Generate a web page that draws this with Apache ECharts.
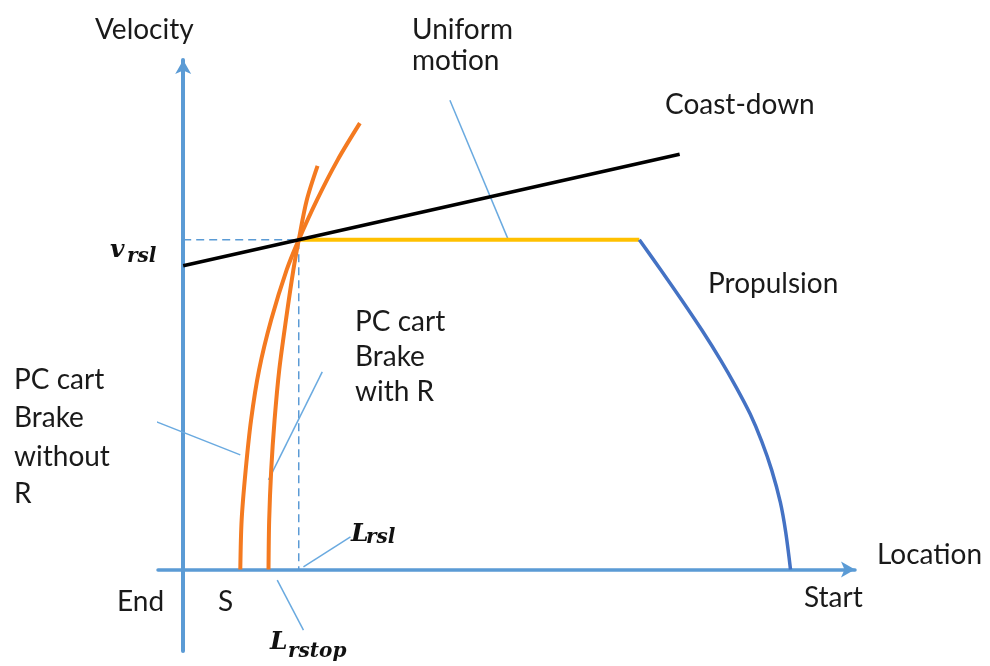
<!DOCTYPE html>
<html>
<head>
<meta charset="utf-8">
<script src="https://cdn.jsdelivr.net/npm/echarts@6/dist/echarts.min.js"></script>
<style>html,body{margin:0;padding:0;background:#fff}#c{width:990px;height:666px}</style>
</head>
<body>
<div id="c"></div>
<script>
// ---- data (arbitrary schematic units: location / velocity) ----
const coastDown = [[0, 59.6], [73.9, 81.5]];
const uniformMotion = [[17.2, 64.7], [67.9, 64.7]];
const propulsion = [[67.9, 64.7], [71.1, 58.8], [74.2, 52.9], [77.2, 47.0], [80.0, 41.1], [82.3, 35.8], [84.4, 30.5], [86.1, 25.2], [87.6, 19.5], [88.9, 13.1], [89.7, 7.2], [90.4, 0]];
const brakeWithoutR = [[8.5, 0], [8.7, 9.7], [9.3, 19.5], [10.1, 29.3], [11.3, 39.2], [13.1, 49.0], [15.4, 58.8], [17.2, 64.7], [19.9, 72.5], [23.0, 80.4], [26.3, 87.6]];
const brakeWithR = [[12.7, 0], [12.8, 9.7], [13.1, 19.5], [13.6, 29.3], [14.3, 39.2], [15.3, 49.0], [16.4, 58.8], [17.2, 64.7], [18.4, 72.5], [20.0, 79.2]];
const vrslGuide = [[0, 64.7], [17.2, 64.7], [17.2, 0]];
const leaderUniform = [[39.7, 92.1], [48.4, 64.7]];
const leaderWithoutR = [[-8.4, 31.3], [8.5, 22.5]];
const leaderWithR = [[12.7, 17.6], [20.7, 38.8]];
const leaderLrsl = [[17.9, 0.5], [24.9, 6.4]];
const leaderLrstop = [[14.0, -2.1], [17.9, -11.9]];

// ---- text labels ----
const textLabels = [
  ['Velocity', 95, 30],
  ['Uniform', 412, 30],
  ['motion', 412, 61],
  ['Coast-down', 665, 105],
  ['Propulsion', 708, 284],
  ['PC cart', 355, 322],
  ['Brake', 355, 357],
  ['with R', 355, 392],
  ['PC cart', 14, 380],
  ['Brake', 14, 418],
  ['without', 14, 457],
  ['R', 14, 494],
  ['End', 117, 602],
  ['S', 218, 602],
  ['Start', 804, 598],
  ['Location', 877, 555]
];
const mathLabels = [
  ['v', 'rsl', 110, 263, 17, 4],
  ['L', 'rsl', 351, 547, 15, 1],
  ['L', 'rstop', 270, 655, 18, 7]
];

const AXIS = '#5B9BD5';
const LEADER = '#6AAAE0';
const chart = echarts.init(document.getElementById('c'), null, {renderer: 'canvas'});

function line(data, color, width, opts) {
  return Object.assign({
    type: 'line', data: data, symbol: 'none', clip: false, silent: true,
    lineStyle: {color: color, width: width}, z: 3
  }, opts || {});
}

const graphics = [];
textLabels.forEach(t => graphics.push({
  type: 'text', x: t[1], y: t[2],
  style: {text: t[0], font: '28px Lato', fill: '#1a1a1a', textVerticalAlign: 'middle'}
}));
mathLabels.forEach(m => {
  graphics.push({type: 'text', x: m[2], y: m[3],
    style: {text: m[0], font: 'italic bold 25px "DejaVu Serif"', fill: '#111', textVerticalAlign: 'bottom'}});
  graphics.push({type: 'text', x: m[2] + m[4], y: m[3] + m[5],
    style: {text: m[1], font: 'italic bold 20px "DejaVu Serif"', fill: '#111', textVerticalAlign: 'bottom'}});
});

chart.setOption({
  animation: false,
  backgroundColor: '#fff',
  grid: {left: 158, right: 135, top: 60, bottom: 15},
  xAxis: {
    type: 'value', min: -3.75, max: 100,
    splitLine: {show: false}, axisTick: {show: false}, axisLabel: {show: false},
    axisLine: {show: true, onZero: true, symbol: ['none', 'arrow'], symbolSize: [12, 14],
      lineStyle: {color: AXIS, width: 3.5}}
  },
  yAxis: {
    type: 'value', min: -16, max: 100,
    splitLine: {show: false}, axisTick: {show: false}, axisLabel: {show: false},
    axisLine: {show: true, onZero: true, symbol: ['none', 'arrow'], symbolSize: [12, 14],
      lineStyle: {color: AXIS, width: 4}}
  },
  series: [
    line(vrslGuide, AXIS, 1.5, {lineStyle: {color: AXIS, width: 1.5, type: [8, 5]}, z: 2}),
    line(leaderUniform, LEADER, 1.5, {z: 2}),
    line(leaderWithoutR, LEADER, 1.5, {z: 2}),
    line(leaderWithR, LEADER, 1.5, {z: 2}),
    line(leaderLrsl, LEADER, 1.5, {z: 2}),
    line(leaderLrstop, LEADER, 1.5, {z: 2}),
    line(uniformMotion, '#FFC000', 4),
    line(propulsion, '#4472C4', 3.5, {smooth: 0.3}),
    line(brakeWithoutR, '#F47A20', 4, {smooth: 0.3}),
    line(brakeWithR, '#F47A20', 4, {smooth: 0.3}),
    line(coastDown, '#000000', 3.5, {z: 4})
  ],
  graphic: graphics
});
</script>
</body>
</html>
